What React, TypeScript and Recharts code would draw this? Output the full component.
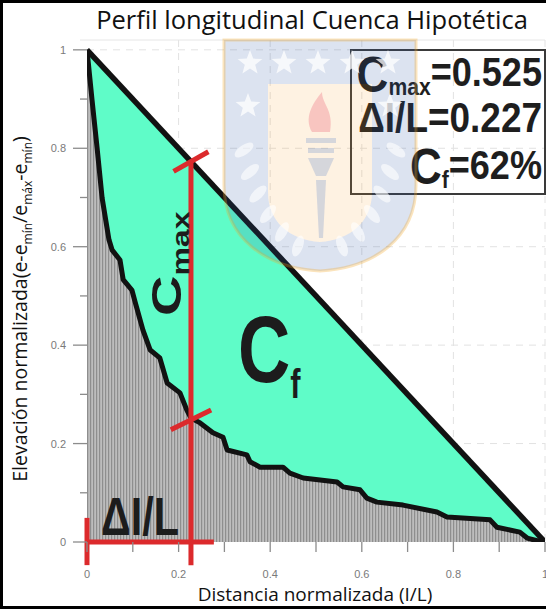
import React from 'react';
import { ComposedChart, Area, Line, XAxis, YAxis, CartesianGrid, ReferenceLine } from 'recharts';

// Hypsometric (normalized longitudinal profile) curve
const distance = [0, 0.011, 0.022, 0.033, 0.048, 0.055, 0.072, 0.079, 0.098, 0.105, 0.122, 0.138, 0.159, 0.175, 0.203, 0.218, 0.227, 0.247, 0.275, 0.297, 0.306, 0.349, 0.356, 0.378, 0.428, 0.443, 0.472, 0.546, 0.559, 0.596, 0.611, 0.633, 0.69, 0.764, 0.786, 0.88, 0.895, 0.945, 0.961, 0.985, 1.0];
const elevation = [1.0, 0.898, 0.801, 0.699, 0.614, 0.593, 0.573, 0.533, 0.512, 0.488, 0.431, 0.39, 0.374, 0.323, 0.303, 0.268, 0.252, 0.242, 0.222, 0.213, 0.187, 0.177, 0.163, 0.152, 0.152, 0.14, 0.13, 0.122, 0.112, 0.106, 0.089, 0.081, 0.075, 0.061, 0.051, 0.045, 0.03, 0.02, 0.008, 0.002, 0];

// Straight reference profile (diagonal)
const diagonalX = [0, 1];
const diagonalY = [1, 0];

// Indices
const deltaL = 0.227;
const cmax = 0.525;
const cfPercent = 62;

const xTicks = [0, 0.1, 0.2, 0.3, 0.4, 0.5, 0.6, 0.7, 0.8, 0.9, 1];
const yTicks = [0, 0.1, 0.2, 0.3, 0.4, 0.5, 0.6, 0.7, 0.8, 0.9, 1];
const gridValues = [0.2, 0.4, 0.6, 0.8, 1];

// annotation extents (data units)
const belowAxis = -0.047;
const deltaBarEnd = 0.277;
const deltaTickTop = 0.049;
const crossDx = 0.038;
const crossDy = 0.02;

const rows = distance.map((x, i) => {
  const r: any = { x, elev: elevation[i] };
  const j = diagonalX.indexOf(x);
  if (j >= 0) r.diag = diagonalY[j];
  return r;
});

const cmaxTop = diagonalY[0] - deltaL; // point on the diagonal
const cmaxBottom = cmaxTop - cmax;

const fmt = (v: number) => (v === 0 ? '0' : v === 1 ? '1' : v.toFixed(1));
const isMajor = (v: number) => Math.round(v * 10) % 2 === 0;

const XTick = (props: any) => {
  const { x, y, payload } = props;
  const v = payload.value;
  return (
    <g>
      <line x1={x} x2={x} y1={y} y2={y + 10} stroke="#8c8c8c" strokeWidth={1.3} />
      {isMajor(v) && (
        <text x={x} y={y + 36} textAnchor="middle" fontSize={11} fill="#7a7a7a" fontFamily="Liberation Sans, Arial, sans-serif">
          {fmt(v)}
        </text>
      )}
    </g>
  );
};

const YTick = (props: any) => {
  const { x, y, payload } = props;
  const v = payload.value;
  const major = isMajor(v);
  return (
    <g>
      <line x1={x - (major ? 14 : 7)} x2={x} y1={y} y2={y} stroke="#8c8c8c" strokeWidth={1.3} />
      {major && (
        <text x={x - 21} y={y + 4} textAnchor="end" fontSize={11} fill="#7a7a7a" fontFamily="Liberation Sans, Arial, sans-serif">
          {fmt(v)}
        </text>
      )}
    </g>
  );
};

const star = (cx: number, cy: number, r: number) => {
  const pts: string[] = [];
  for (let k = 0; k < 10; k++) {
    const rr = k % 2 === 0 ? r : r * 0.42;
    const a = -Math.PI / 2 + (k * Math.PI) / 5;
    pts.push(`${(cx + rr * Math.cos(a)).toFixed(1)},${(cy + rr * Math.sin(a)).toFixed(1)}`);
  }
  return pts.join(' ');
};

const leaves: [number, number, number][] = [
  [244, 150, -35], [250, 172, -40], [258, 194, -45], [268, 214, -50], [282, 232, -60], [298, 246, -70],
  [396, 150, 35], [390, 172, 40], [382, 194, 45], [372, 214, 50], [358, 232, 60], [342, 246, 70],
];

const RED = '#dc2a2c';
const BOLD = 'Liberation Sans, Arial, Helvetica, sans-serif';
const SANS = '"Open Sans", "Noto Sans", sans-serif';

export default function App() {
  return (
    <div style={{ position: 'absolute', left: 0, top: 0, width: 546, height: 609, background: '#fff', overflow: 'hidden' }}>
      <ComposedChart width={546} height={609} data={rows} margin={{ top: 40, right: 1, left: 0, bottom: 0 }}>
        <defs>
          <pattern id="stripes" patternUnits="userSpaceOnUse" width="3" height="4">
            <rect x="0" y="0" width="3" height="4" fill="#bdbdbd" />
            <rect x="0" y="0" width="1.2" height="4" fill="#8e8e8e" />
          </pattern>
        </defs>
        <CartesianGrid horizontal vertical horizontalValues={gridValues} verticalValues={gridValues} stroke="#e2e2e2" strokeDasharray="7 6" />
        <XAxis type="number" dataKey="x" domain={[0, 1]} ticks={xTicks} interval={0} tick={<XTick />} tickLine={false} axisLine={false} tickSize={0} tickMargin={0} height={67} allowDataOverflow />
        <YAxis type="number" domain={[0, 1.02]} ticks={yTicks} interval={0} tick={<YTick />} tickLine={false} axisLine={false} tickSize={0} tickMargin={0} width={87} allowDataOverflow />
        <Area type="linear" dataKey="diag" connectNulls fill="#5ffcc8" fillOpacity={1} stroke="none" isAnimationActive={false} />
        <Area type="linear" dataKey="elev" fill="url(#stripes)" fillOpacity={1} stroke="none" isAnimationActive={false} />
        <Line type="linear" dataKey="elev" stroke="#121212" strokeWidth={5} dot={false} strokeLinejoin="round" isAnimationActive={false} />
        <Line type="linear" dataKey="diag" connectNulls stroke="#121212" strokeWidth={5.5} dot={false} isAnimationActive={false} />
        {/* Cmax vertical */}
        <ReferenceLine ifOverflow="visible" segment={[{ x: deltaL, y: belowAxis }, { x: deltaL, y: cmaxTop }]} stroke={RED} strokeWidth={5} />
        <ReferenceLine ifOverflow="visible" segment={[{ x: deltaL - crossDx, y: cmaxTop - crossDy }, { x: deltaL + crossDx, y: cmaxTop + crossDy }]} stroke={RED} strokeWidth={5} />
        <ReferenceLine ifOverflow="visible" segment={[{ x: deltaL - crossDx - 0.006, y: cmaxBottom - crossDy }, { x: deltaL + crossDx + 0.006, y: cmaxBottom + crossDy }]} stroke={RED} strokeWidth={5} />
        {/* Delta l/L */}
        <ReferenceLine ifOverflow="visible" segment={[{ x: 0, y: 0 }, { x: deltaBarEnd, y: 0 }]} stroke={RED} strokeWidth={5} />
        <ReferenceLine ifOverflow="visible" segment={[{ x: 0, y: belowAxis }, { x: 0, y: deltaTickTop }]} stroke={RED} strokeWidth={5} />
      </ComposedChart>

      <svg width={546} height={609} style={{ position: 'absolute', left: 0, top: 0, pointerEvents: 'none' }}>
        {/* plot top border */}
        <line x1={80} x2={545} y1={40} y2={40} stroke="#e6e6e6" strokeWidth={1} />

        {/* in-plot labels */}
        <g transform="translate(101,535) scale(0.78,1)">
          <text x={0} y={0} fontSize={53} fontWeight="bold" fontFamily={BOLD} fill="#1c1c1c">ΔI/L</text>
        </g>
        <g transform="translate(181,316) scale(0.76,1) rotate(-90)">
          <text x={0} y={0} fontSize={56} fontWeight="bold" fontFamily={BOLD} fill="#1c1c1c">
            C<tspan fontSize={32} dy={10}>max</tspan>
          </text>
        </g>
        <g transform="translate(238,382) scale(0.77,1)">
          <text x={0} y={0} fontSize={94} fontWeight="bold" fontFamily={BOLD} fill="#1c1c1c">
            C<tspan fontSize={40} dy={16}>f</tspan>
          </text>
        </g>

        {/* stats box */}
        <rect x={351} y={50} width={194} height={144} fill="none" stroke="#3a3a3a" strokeWidth={2} />
        <g transform="translate(542,86) scale(0.88,1)">
          <text x={0} y={0} textAnchor="end" fontSize={41} fontWeight="bold" fontFamily={BOLD} fill="#1e1e1e">
            <tspan fontSize={50} dy={6}>C</tspan><tspan fontSize={24} dy={3}>max</tspan><tspan dy={-9}>={cmax.toFixed(3)}</tspan>
          </text>
        </g>
        <g transform="translate(542,132) scale(0.88,1)">
          <text x={0} y={0} textAnchor="end" fontSize={42} fontWeight="bold" fontFamily={BOLD} fill="#1e1e1e">
            ΔI/L={deltaL.toFixed(3)}
          </text>
        </g>
        <g transform="translate(542,179) scale(0.88,1)">
          <text x={0} y={0} textAnchor="end" fontSize={41} fontWeight="bold" fontFamily={BOLD} fill="#1e1e1e">
            <tspan fontSize={50} dy={5}>C</tspan><tspan fontSize={24} dy={4}>f</tspan><tspan dy={-9}>={cfPercent}%</tspan>
          </text>
        </g>

        {/* watermark */}
        <g>
          <path d="M224,40 H416 V185 C416,240 372,268 320,271 C268,268 224,240 224,185 Z M268,84 H372 V192 C372,222 350,240 320,242 C290,240 268,222 268,192 Z" fillRule="evenodd" fill="#2d5aa8" fillOpacity={0.17} />
          <path d="M268,84 H372 V192 C372,222 350,240 320,242 C290,240 268,222 268,192 Z" fill="#f5a030" fillOpacity={0.14} />
          <path d="M224,40 H416 V185 C416,240 372,268 320,271 C268,268 224,240 224,185 Z" fill="none" stroke="#f2a623" strokeOpacity={0.3} strokeWidth={3} />
          {[[250, 63], [284, 63], [318, 63], [352, 63], [388, 63], [248, 106], [390, 106]].map(([cx, cy], i) => (
            <polygon key={i} points={star(cx, cy, 13)} fill="#ffffff" fillOpacity={0.75} />
          ))}
          {leaves.map(([cx, cy, a], i) => (
            <ellipse key={`l${i}`} cx={cx} cy={cy} rx={11} ry={5} transform={`rotate(${a} ${cx} ${cy})`} fill="#ffffff" fillOpacity={0.6} />
          ))}
          <path d="M312,132 C304,118 312,104 322,92 C322,104 334,110 330,132 Z" fill="#e8405a" fillOpacity={0.25} />
          <rect x={306} y={138} width={30} height={5} fill="#5a82c8" fillOpacity={0.25} />
          <rect x={308} y={148} width={26} height={5} fill="#5a82c8" fillOpacity={0.25} />
          <path d="M308,158 H334 L326,176 H316 Z" fill="#5a82c8" fillOpacity={0.25} />
          <path d="M316,180 H326 L323,238 H319 Z" fill="#5a82c8" fillOpacity={0.25} />
        </g>

        {/* title and axis titles */}
        <text x={312} y={29} textAnchor="middle" fontSize={25.5} fontFamily={SANS} fill="#111">Perfil longitudinal Cuenca Hipotética</text>
        <text x={315} y={601} textAnchor="middle" fontSize={19} fontFamily={SANS} fill="#111">Distancia normalizada (I/L)</text>
        <text transform="translate(27,309) rotate(-90)" textAnchor="middle" fontSize={19.5} fontFamily={SANS} fill="#111">
          Elevación normalizada(e-e<tspan fontSize={12} dy={5}>mín</tspan><tspan dy={-5}>/e</tspan><tspan fontSize={12} dy={5}>máx</tspan><tspan dy={-5}>-e</tspan><tspan fontSize={12} dy={5}>mín</tspan><tspan dy={-5}>)</tspan>
        </text>

        {/* frame */}
        <path d="M546,1.5 H1.5 V607.5 H546" fill="none" stroke="#000" strokeWidth={3} />
      </svg>
    </div>
  );
}
